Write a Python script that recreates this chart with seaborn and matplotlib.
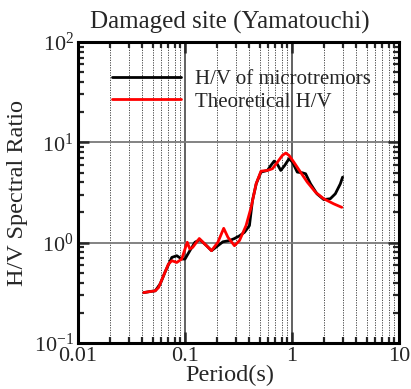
import numpy as np
import pandas as pd
import matplotlib
matplotlib.use("Agg")
import matplotlib.pyplot as plt
import matplotlib.ticker as mticker
import seaborn as sns

# ---- data ----
obs_period = [0.0411, 0.0474, 0.0527, 0.0587, 0.0653, 0.0753, 0.0838, 0.0932, 0.100, 0.111,
              0.124, 0.138, 0.159, 0.177, 0.203, 0.226, 0.261, 0.290, 0.323, 0.360,
              0.400, 0.427, 0.464, 0.513, 0.590, 0.635, 0.681, 0.731, 0.785, 0.855,
              0.938, 1.01, 1.12, 1.24, 1.34, 1.49, 1.71, 1.98, 2.28, 2.54, 2.83, 2.97]
obs_hv = [0.318, 0.326, 0.331, 0.389, 0.513, 0.713, 0.741, 0.687, 0.687, 0.832,
          1.01, 1.07, 0.933, 0.832, 0.933, 1.02, 1.05, 1.10, 1.17, 1.27,
          1.48, 2.63, 3.89, 5.05, 5.25, 5.89, 6.50, 6.03, 5.25, 5.89,
          6.87, 6.35, 5.05, 4.98, 4.86, 3.86, 3.07, 2.69, 2.74, 3.07, 3.86, 4.50]

theo_period = [0.0411, 0.0474, 0.0527, 0.0566, 0.0630, 0.0700, 0.0753, 0.0838, 0.0932, 0.100,
               0.105, 0.111, 0.118, 0.136, 0.153, 0.177, 0.203, 0.230, 0.252, 0.290,
               0.323, 0.372, 0.415, 0.462, 0.513, 0.590, 0.657, 0.731, 0.813, 0.875,
               0.938, 1.04, 1.20, 1.39, 1.66, 1.98, 2.45, 2.92]
theo_hv = [0.318, 0.326, 0.331, 0.357, 0.468, 0.612, 0.661, 0.635, 0.687, 0.865,
           1.01, 0.865, 0.898, 1.10, 0.97, 0.832, 1.01, 1.39, 1.13, 0.933,
           1.05, 1.48, 2.25, 3.86, 5.16, 5.25, 5.46, 6.35, 7.41, 7.82,
           7.41, 6.35, 5.05, 4.01, 3.18, 2.74, 2.44, 2.25]

series_names = ["H/V of microtremors", "Theoretical H/V"]
series_colors = ["#000000", "#ff0000"]
x_tick_values = [0.01, 0.1, 1, 10]
x_tick_labels = ["0.01", "0.1", "1", "10"]
title_text = "Damaged site (Yamatouchi)"
xlabel_text = "Period(s)"
ylabel_text = "H/V Spectral Ratio"

df = pd.concat([
    pd.DataFrame({"Period": obs_period, "HV": obs_hv, "Series": series_names[0]}),
    pd.DataFrame({"Period": theo_period, "HV": theo_hv, "Series": series_names[1]}),
], ignore_index=True)

sns.set_theme(style="white")
plt.rcParams["font.family"] = ["Liberation Serif", "DejaVu Serif"]
plt.rcParams["mathtext.fontset"] = "stix"

fig = plt.figure(figsize=(4.11, 3.89), dpi=100)
ax = fig.add_axes([78 / 411, 1 - 343 / 389, 321 / 411, 301 / 389])

sns.lineplot(data=df, x="Period", y="HV", hue="Series", palette=series_colors,
             hue_order=series_names, sort=False, linewidth=2.0, ax=ax,
             solid_joinstyle="round", solid_capstyle="round")

ax.set_xscale("log")
ax.set_yscale("log")
ax.set_xlim(0.01, 10)
ax.set_ylim(0.1, 100)

ax.xaxis.set_major_locator(mticker.FixedLocator(x_tick_values))
ax.xaxis.set_major_formatter(mticker.FixedFormatter(x_tick_labels))
ax.xaxis.set_minor_locator(mticker.LogLocator(base=10, subs=np.arange(2, 10)))
ax.xaxis.set_minor_formatter(mticker.NullFormatter())
ax.yaxis.set_major_locator(mticker.LogLocator(base=10))
ax.yaxis.set_major_formatter(mticker.LogFormatterMathtext())
ax.yaxis.set_minor_locator(mticker.LogLocator(base=10, subs=np.arange(2, 10)))
ax.yaxis.set_minor_formatter(mticker.NullFormatter())

ax.grid(True, which="major", axis="y", color="#7a7a7a", linewidth=1.3, linestyle="-")
ax.grid(True, which="major", axis="x", color="#555555", linewidth=1.3, linestyle="-")
ax.grid(True, which="minor", axis="x", color="#333333", linewidth=0.6, linestyle=(0, (1.5, 1.5)))
ax.set_axisbelow(True)

ax.tick_params(which="both", direction="in", top=True, right=True, bottom=True, left=True)
ax.tick_params(which="major", length=8, width=1.8, labelsize=16, pad=3)
ax.tick_params(which="minor", length=4.5, width=1.6)
for s in ax.spines.values():
    s.set_linewidth(2.2)
    s.set_color("black")

ax.set_title(title_text, fontsize=18, pad=10, x=(230 - 78) / 321)
ax.set_xlabel(xlabel_text, fontsize=17.5)
ax.xaxis.set_label_coords((230 - 78) / 321, -0.072)
ax.set_ylabel(ylabel_text, fontsize=17.5, labelpad=4)

leg = ax.legend(loc="center left", bbox_to_anchor=((112 - 78) / 321, 1 - (90.5 - 42) / 301),
                frameon=False, fontsize=15, handlelength=3.3, handletextpad=0.7,
                labelspacing=0.15, borderpad=0, borderaxespad=0)
for line in leg.get_lines():
    line.set_linewidth(2.0)

fig.savefig("out.png", dpi=100)
